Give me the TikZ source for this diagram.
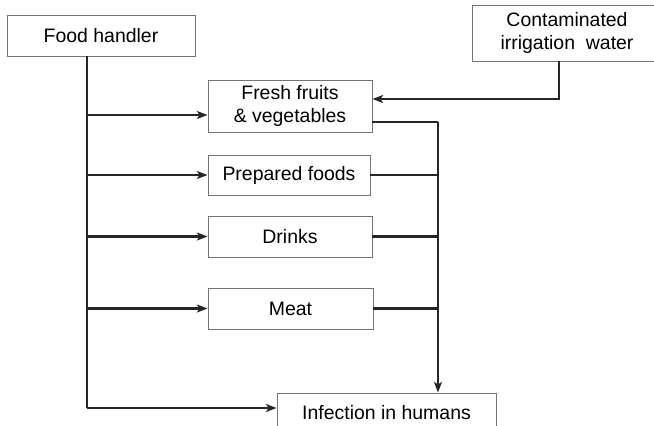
\documentclass[tikz,border=0pt]{standalone}
\usepackage{fontspec}
\setmainfont{Liberation Sans}
\usepackage{tikz}
\usetikzlibrary{arrows.meta, positioning, calc}

\begin{document}
\begin{tikzpicture}[
      x=0.03cm, y=-0.03cm,
      every node/.style={font=\fontsize{16.6}{19.5}\selectfont},
      box/.style={rectangle, draw=black!55, line width=0.8pt, inner sep=0pt, align=center,
        minimum width=4.92cm, minimum height=1.23cm},
      link/.style={draw=black!85, line width=1.8pt},
      arr/.style={link, -{Stealth[length=0.32cm, width=0.24cm, inset=0.08cm]}}
    ]
      \path[use as bounding box, clip] (0,0) rectangle (654,425);

      \node[box, minimum width=5.64cm] (handler) at (101,35.5) {Food handler};
      \node[box, minimum width=5.7cm, minimum height=1.68cm] (water) at (567,33) {Contaminated\\irrigation\ \ water};
      \node[box, minimum height=1.56cm] (fruits) at (290,106) {Fresh fruits\\\& vegetables};
      \node[box, minimum width=4.86cm, minimum height=1.2cm] (prepared) at (289,175) {Prepared foods};
      \node[box] (drinks) at (290,236.5) {Drinks};
      \node[box, minimum width=4.95cm] (meat) at (290.5,308.5) {Meat};
      \node[box, minimum width=6.57cm, minimum height=1.2cm] (infection) at (386.5,413) {Infection in humans};

      \coordinate (trunk) at (87,408);
      \coordinate (sink) at (438,122);

      \draw[link] (trunk |- handler.south) -- (trunk);
      \draw[arr] (trunk) -- (trunk -| infection.west);
      \draw[arr] ($(trunk |- fruits.west)+(0,9)$) -- ($(fruits.west)+(0,9)$);
      \foreach \n in {prepared, drinks, meat}
        \draw[arr] (trunk |- \n.west) -- (\n.west);

      \draw[arr] ($(water.south)+(-8,0)$) |- ($(fruits.east)+(0,-7)$);
      \draw[link] ($(fruits.east)+(0,16)$) -| (sink);
      \foreach \n in {prepared, drinks, meat}
        \draw[link] (\n.east) -- (\n.east -| sink);
      \draw[arr] (sink) -- (sink |- infection.north);
    \end{tikzpicture}
\end{document}
